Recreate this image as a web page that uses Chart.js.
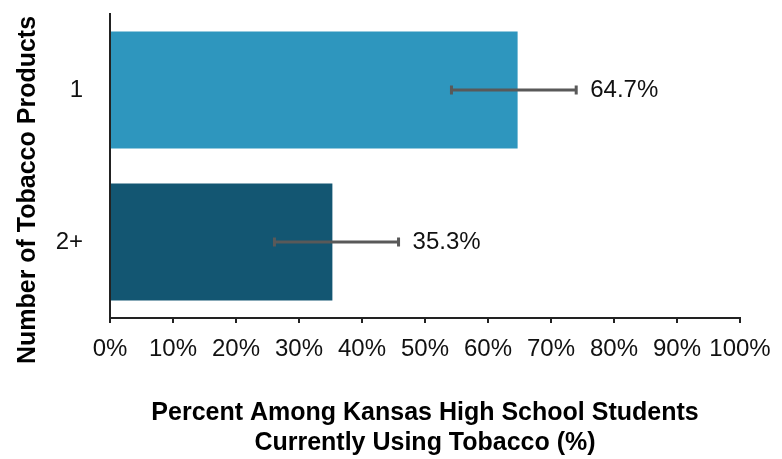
<!DOCTYPE html>
<html>
<head>
<meta charset="utf-8">
<script src="https://cdn.jsdelivr.net/npm/chart.js@4"></script>
<style>
  html, body { margin: 0; padding: 0; background: #ffffff; }
  #wrap { width: 782px; height: 459px; }
</style>
</head>
<body>
<div id="wrap"><canvas id="c" width="782" height="459"></canvas></div>
<script>
const categories = ['1', '2+'];
const percentValues = [64.7, 35.3];
const errorLow = [54.2, 26.1];
const errorHigh = [74.0, 45.8];
const xTicks = [0, 10, 20, 30, 40, 50, 60, 70, 80, 90, 100];
const yTitle = 'Number of Tobacco Products';
const xTitleLines = ['Percent Among Kansas High School Students', 'Currently Using Tobacco (%)'];
const barColors = ['#2E96BE', '#135672'];

const FONT = '"Liberation Sans", Arial, sans-serif';
Chart.defaults.font.family = FONT;

const errorBarPlugin = {
  id: 'errorBars',
  afterDatasetsDraw(chart) {
    const ctx = chart.ctx;
    const xs = chart.scales.x, ys = chart.scales.y;
    ctx.save();
    ctx.strokeStyle = '#595959';
    ctx.lineWidth = 3;
    for (let i = 0; i < categories.length; i++) {
      const y = ys.getPixelForValue(i);
      const x1 = xs.getPixelForValue(errorLow[i]);
      const x2 = xs.getPixelForValue(errorHigh[i]);
      ctx.beginPath();
      ctx.moveTo(x1, y); ctx.lineTo(x2, y);
      ctx.moveTo(x1, y - 4.5); ctx.lineTo(x1, y + 4.5);
      ctx.moveTo(x2, y - 4.5); ctx.lineTo(x2, y + 4.5);
      ctx.stroke();
      ctx.fillStyle = '#111111';
      ctx.font = '24px ' + FONT;
      ctx.textAlign = 'left';
      ctx.textBaseline = 'middle';
      ctx.fillText(percentValues[i].toFixed(1) + '%', x2 + 14, y);
    }
    ctx.restore();
  }
};

const titlesPlugin = {
  id: 'axisTitles',
  afterDraw(chart) {
    const ctx = chart.ctx;
    const area = chart.chartArea;
    ctx.save();
    ctx.fillStyle = '#000000';
    ctx.font = 'bold 25px ' + FONT;
    ctx.textAlign = 'center';
    ctx.textBaseline = 'middle';
    const cx = (area.left + area.right) / 2;
    ctx.fillText(xTitleLines[0], cx, 413);
    ctx.fillText(xTitleLines[1], cx, 443);
    ctx.translate(28, 190);
    ctx.rotate(-Math.PI / 2);
    ctx.font = 'bold 25px ' + FONT;
    ctx.fillText(yTitle, 0, 0);
    ctx.restore();
  }
};

new Chart(document.getElementById('c'), {
  type: 'bar',
  data: {
    labels: categories,
    datasets: [{
      data: percentValues,
      backgroundColor: barColors,
      borderWidth: 0,
      barPercentage: 0.77,
      categoryPercentage: 1.0
    }]
  },
  options: {
    indexAxis: 'y',
    responsive: false,
    animation: false,
    devicePixelRatio: 1,
    layout: { padding: { top: 14, right: 42, left: 0, bottom: 0 } },
    plugins: {
      legend: { display: false },
      tooltip: { enabled: false },
      title: { display: false }
    },
    scales: {
      x: {
        min: 0, max: 100,
        afterBuildTicks(scale) { scale.ticks = xTicks.map(v => ({ value: v })); },
        afterFit(scale) {
          scale.height = 141;
          scale.paddingLeft = 0; scale.paddingRight = 0; scale.paddingTop = 0; scale.paddingBottom = 0;
        },
        ticks: {
          callback: v => v + '%',
          color: '#111111',
          font: { size: 24 },
          padding: 12,
          maxRotation: 0,
          autoSkip: false
        },
        grid: { drawOnChartArea: false, drawTicks: true, tickLength: 5, color: '#222222', lineWidth: 2 },
        border: { display: true, color: '#222222', width: 2 }
      },
      y: {
        afterFit(scale) {
          scale.width = 110;
          scale.paddingLeft = 0; scale.paddingRight = 0; scale.paddingTop = 0; scale.paddingBottom = 0;
        },
        ticks: {
          color: '#111111',
          font: { size: 24 },
          padding: 19
        },
        grid: { display: false },
        border: { display: true, color: '#222222', width: 2 }
      }
    }
  },
  plugins: [errorBarPlugin, titlesPlugin]
});
</script>
</body>
</html>
